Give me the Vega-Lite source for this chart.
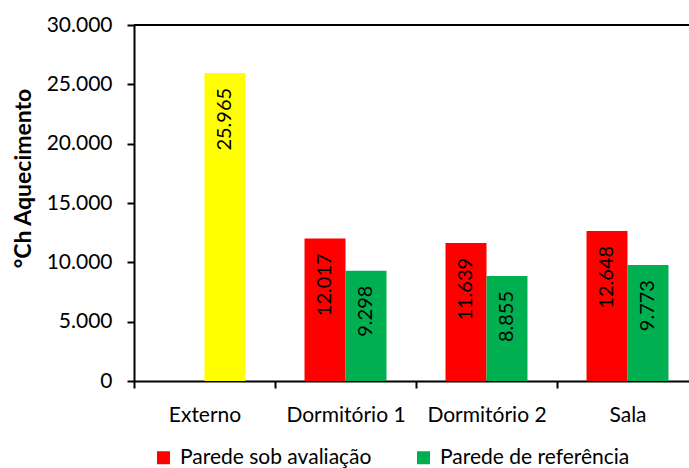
{
  "$schema": "https://vega.github.io/schema/vega-lite/v6.json",
  "autosize": {"type": "none"},
  "padding": {"left": 134, "top": 25, "right": 0, "bottom": 87},
  "width": 564,
  "height": 356,
  "config": {
    "font": "Lato",
    "view": {"stroke": null},
    "locale": {
      "number": {"decimal": ",", "thousands": ".", "grouping": [3], "currency": ["", ""]}
    }
  },
  "data": {
    "values": [
      {"local": "Externo", "parede": "Parede de referência", "serie": "Externo", "valor": 25965},
      {"local": "Dormitório 1", "parede": "Parede sob avaliação", "serie": "Parede sob avaliação", "valor": 12017},
      {"local": "Dormitório 1", "parede": "Parede de referência", "serie": "Parede de referência", "valor": 9298},
      {"local": "Dormitório 2", "parede": "Parede sob avaliação", "serie": "Parede sob avaliação", "valor": 11639},
      {"local": "Dormitório 2", "parede": "Parede de referência", "serie": "Parede de referência", "valor": 8855},
      {"local": "Sala", "parede": "Parede sob avaliação", "serie": "Parede sob avaliação", "valor": 12648},
      {"local": "Sala", "parede": "Parede de referência", "serie": "Parede de referência", "valor": 9773}
    ]
  },
  "encoding": {
    "x": {
      "field": "local",
      "type": "nominal",
      "sort": ["Externo", "Dormitório 1", "Dormitório 2", "Sala"],
      "scale": {"paddingInner": 0, "paddingOuter": 0},
      "axis": {
        "title": null,
        "labelAngle": 0,
        "labelFontSize": 21,
        "labelColor": "#000000",
        "labelPadding": 16,
        "tickBand": "extent",
        "tickSize": 7,
        "tickWidth": 2,
        "tickColor": "#000000",
        "domainColor": "#000000",
        "domainWidth": 2
      }
    },
    "xOffset": {
      "field": "parede",
      "type": "nominal",
      "sort": ["Parede sob avaliação", "Parede de referência"],
      "scale": {"paddingInner": 0, "paddingOuter": 0.72}
    },
    "y": {
      "field": "valor",
      "type": "quantitative",
      "scale": {"domain": [0, 30000], "nice": false},
      "axis": {
        "title": "°Ch Aquecimento",
        "titleFontSize": 23,
        "titleFontWeight": "bold",
        "titleColor": "#000000",
        "titleAngle": 270,
        "titleAlign": "center",
        "titleBaseline": "middle",
        "titleX": -111,
        "titleY": 153,
        "values": [0, 5000, 10000, 15000, 20000, 25000, 30000],
        "format": ",.0f",
        "labelFontSize": 21,
        "labelColor": "#000000",
        "labelPadding": 15,
        "grid": false,
        "tickSize": 7,
        "tickWidth": 2,
        "tickColor": "#000000",
        "domainColor": "#000000",
        "domainWidth": 2
      }
    }
  },
  "layer": [
    {
      "mark": {"type": "bar"},
      "encoding": {
        "color": {
          "field": "serie",
          "type": "nominal",
          "scale": {
            "domain": ["Parede sob avaliação", "Parede de referência", "Externo"],
            "range": ["#FF0000", "#00B050", "#FFFF00"]
          },
          "legend": {
            "values": ["Parede sob avaliação", "Parede de referência"],
            "title": null,
            "orient": "none",
            "direction": "horizontal",
            "legendX": 19,
            "legendY": 422,
            "symbolType": "square",
            "symbolSize": 169,
            "symbolStrokeWidth": 0,
            "symbolOpacity": 1,
            "labelFontSize": 21,
            "labelLimit": 0,
            "labelColor": "#000000",
            "labelOffset": 6,
            "columnPadding": 41,
            "padding": 0
          }
        }
      }
    },
    {
      "mark": {
        "type": "text",
        "angle": 270,
        "align": "right",
        "baseline": "middle",
        "dx": -15,
        "fontSize": 20,
        "color": "#000000"
      },
      "encoding": {
        "text": {"field": "valor", "type": "quantitative", "format": ",.0f"}
      }
    },
    {
      "mark": {"type": "rule", "color": "#000000", "strokeWidth": 2},
      "encoding": {
        "y": {"datum": 30000},
        "x": null,
        "xOffset": null
      }
    }
  ]
}
